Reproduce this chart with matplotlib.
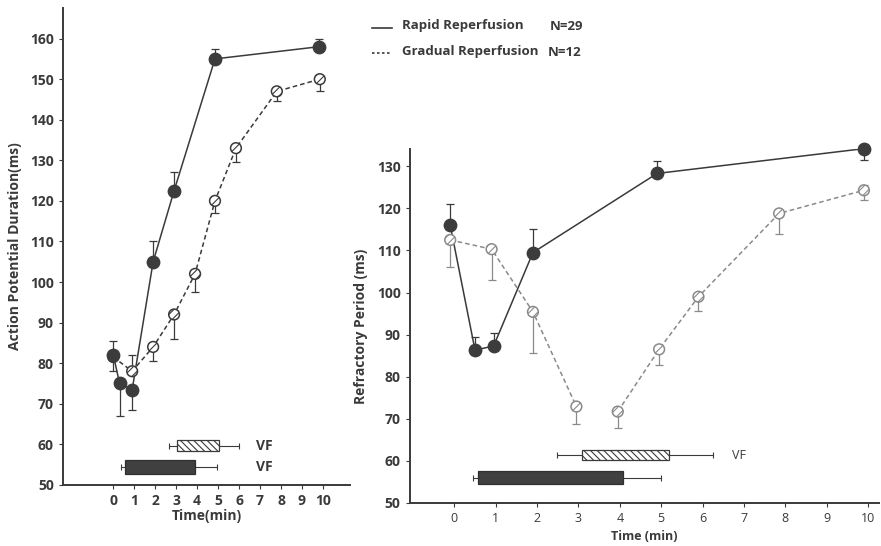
import numpy as np
import matplotlib
matplotlib.use('Agg')
import matplotlib.pyplot as plt
from matplotlib.lines import Line2D

plt.rcParams['font.family'] = ['Open Sans', 'DejaVu Sans']
plt.rcParams['hatch.linewidth'] = 0.8

INK = '#3a3a3a'

# ---- Action potential duration (left panel) ----
apd_rapid_t = [0, 0.3, 0.9, 1.9, 2.9, 4.85, 9.8]
apd_rapid = [82, 75, 73.5, 105, 122.5, 155, 158]
apd_rapid_lo = [4, 8, 5, 0, 0, 0, 0]
apd_rapid_hi = [3.5, 0, 0, 5, 4.5, 2.5, 2]

apd_grad_t = [0, 0.9, 1.9, 2.9, 3.9, 4.85, 5.85, 7.8, 9.85]
apd_grad = [81.5, 78, 84, 92, 102, 120, 133, 147, 150]
apd_grad_lo = [0, 0, 3.5, 6, 4.5, 3, 3.5, 2.5, 3]
apd_grad_hi = [0, 4, 0, 0, 0, 0, 0, 0, 0]

# VF duration bars: [box start, box end, whisker min, whisker max]
apd_vf_grad = [3.05, 5.05, 2.65, 6.0]
apd_vf_rapid = [0.55, 3.9, 0.35, 4.95]

# ---- Refractory period (right panel) ----
rp_rapid_t = [-0.1, 0.5, 0.95, 1.9, 4.9, 9.9]
rp_rapid = [116, 86.3, 87.3, 109.5, 128.3, 134.2]
rp_rapid_lo = [0, 0, 0, 0, 0, 2.6]
rp_rapid_hi = [5, 3.2, 3.1, 5.7, 2.9, 0]

rp_grad_t = [-0.1, 0.9, 1.9, 2.95, 3.95, 4.95, 5.9, 7.85, 9.9]
rp_grad = [112.5, 110.3, 95.4, 72.9, 71.7, 86.5, 99, 118.8, 124.3]
rp_grad_lo = [6.4, 7.3, 9.8, 4.1, 4, 3.7, 3.3, 4.8, 2.3]
rp_grad_hi = [0, 0, 0, 0, 0, 0, 0, 0, 1.2]

rp_vf_grad = [3.08, 5.18, 2.47, 6.24]
rp_vf_rapid = [0.56, 4.07, 0.46, 5.0]

xticks = list(range(0, 11))


def draw_series(ax, t, v, lo, hi, filled, lcolor, ls, gap=None):
    t = np.array(t, float)
    v = np.array(v, float)
    if gap is None:
        ax.plot(t, v, ls=ls, color=lcolor, lw=1.1, zorder=2)
    else:
        ax.plot(t[:gap], v[:gap], ls=ls, color=lcolor, lw=1.1, zorder=2)
        ax.plot(t[gap:], v[gap:], ls=ls, color=lcolor, lw=1.1, zorder=2)
    ax.errorbar(t, v, yerr=[lo, hi], fmt='none', ecolor=lcolor, elinewidth=0.9,
                capsize=3, capthick=0.9, zorder=1)
    if filled:
        ax.scatter(t, v, s=80, color='#3c3c3c', zorder=4, clip_on=False)
    else:
        ax.scatter(t, v, s=60, facecolor='white', edgecolor=lcolor, hatch='////',
                   linewidth=1.1, zorder=3, clip_on=False)


def draw_vf(ax, vf, y, h, hatched):
    start, end, lo, hi = vf
    ax.errorbar((lo + hi) / 2, y, xerr=(hi - lo) / 2, fmt='none', ecolor=INK,
                elinewidth=0.8, capsize=2.5, capthick=0.8, zorder=1)
    if hatched:
        ax.barh(y, end - start, left=start, height=h, facecolor='white',
                edgecolor=INK, hatch='\\\\\\\\\\', linewidth=0.9, zorder=2)
    else:
        ax.barh(y, end - start, left=start, height=h, facecolor='#404040',
                edgecolor='#303030', linewidth=0.9, zorder=2)


def style_axes(ax, xlim, ylim, yticks):
    ax.set_xlim(*xlim)
    ax.set_ylim(*ylim)
    for s in ['top', 'right']:
        ax.spines[s].set_visible(False)
    for s in ['left', 'bottom']:
        ax.spines[s].set_linewidth(1.4)
        ax.spines[s].set_color(INK)
    ax.set_xticks(xticks)
    ax.set_yticks(yticks)
    ax.tick_params(colors=INK, length=3, width=0.8, labelsize=10)


fig = plt.figure(figsize=(8.81, 5.46), dpi=100)

# left panel
ax1 = fig.add_axes([0.0715, 0.112, 0.326, 0.873])
style_axes(ax1, (-2.4, 11.3), (50, 167.5), range(50, 170, 10))
draw_series(ax1, apd_rapid_t, apd_rapid, apd_rapid_lo, apd_rapid_hi, True, INK, '-')
draw_series(ax1, apd_grad_t, apd_grad, apd_grad_lo, apd_grad_hi, False, INK, (0, (3, 2)))
draw_vf(ax1, apd_vf_grad, 59.6, 2.7, True)
draw_vf(ax1, apd_vf_rapid, 54.4, 3.4, False)
ax1.text(6.8, 59.6, 'VF', fontsize=10, color=INK, va='center', fontweight='bold')
ax1.text(6.8, 54.4, 'VF', fontsize=10, color=INK, va='center', fontweight='bold')
for lab in ax1.get_yticklabels() + ax1.get_xticklabels():
    lab.set_fontweight('bold')
ax1.set_xlabel('Time(min)', fontsize=10, fontweight='bold', color=INK, labelpad=1)
ax1.set_ylabel('Action Potential Duration(ms)', fontsize=10, fontweight='bold',
               color=INK, labelpad=6)

# right panel
ax2 = fig.add_axes([0.465, 0.079, 0.533, 0.648])
style_axes(ax2, (-1.08, 10.27), (50, 134.1), range(50, 140, 10))
draw_series(ax2, rp_rapid_t, rp_rapid, rp_rapid_lo, rp_rapid_hi, True, INK, '-')
draw_series(ax2, rp_grad_t, rp_grad, rp_grad_lo, rp_grad_hi, False, '#8a8a8a',
            (0, (3, 2)), gap=4)
draw_vf(ax2, rp_vf_grad, 61.3, 2.4, True)
draw_vf(ax2, rp_vf_rapid, 56.0, 3.0, False)
ax2.text(6.7, 61.3, 'VF', fontsize=9, color=INK, va='center')
for lab in ax2.get_yticklabels():
    lab.set_fontweight('bold')
for lab in ax2.get_xticklabels():
    lab.set_fontsize(9)
ax2.set_xlabel('Time (min)', fontsize=9, fontweight='bold', color=INK, labelpad=4)
ax2.set_ylabel('Refractory Period (ms)', fontsize=10, fontweight='bold',
               color=INK, labelpad=6)

# legend at top
fig.add_artist(Line2D([372 / 881, 392 / 881], [1 - 28 / 546] * 2, color=INK, lw=1.2))
fig.add_artist(Line2D([372 / 881, 392 / 881], [1 - 53 / 546] * 2, color=INK, lw=1.2,
                      ls=(0, (1.5, 1.5))))
fig.text(402 / 881, 1 - 26 / 546, 'Rapid Reperfusion', fontsize=9.5, fontweight='bold',
         color=INK, va='center')
fig.text(550 / 881, 1 - 26 / 546, 'N=29', fontsize=9.5, fontweight='bold',
         color=INK, va='center')
fig.text(402 / 881, 1 - 52 / 546, 'Gradual Reperfusion', fontsize=9.5, fontweight='bold',
         color=INK, va='center')
fig.text(548 / 881, 1 - 52 / 546, 'N=12', fontsize=9.5, fontweight='bold',
         color=INK, va='center')

fig.savefig('out.png', dpi=100)
